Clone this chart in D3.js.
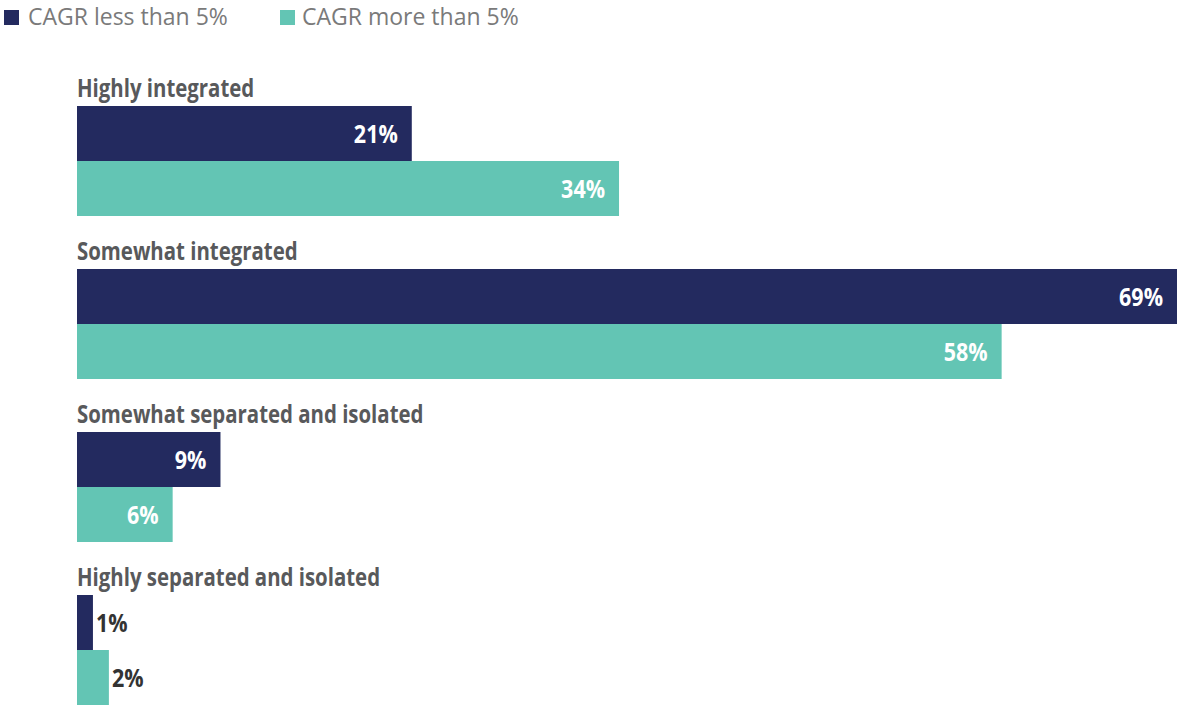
<!DOCTYPE html>
<html>
<head>
<meta charset="utf-8">
<script src="https://cdn.jsdelivr.net/npm/d3@7"></script>
<style>
  body { margin: 0; background: #fff; }
  svg { display: block; }
  .cond { font-family: 'Open Sans', sans-serif; font-weight: bold; }
</style>
</head>
<body>
<svg id="chart" width="1177" height="707"></svg>
<script>
// chart data
const categories = ["Highly integrated", "Somewhat integrated", "Somewhat separated and isolated", "Highly separated and isolated"];
const seriesNames = ["CAGR less than 5%", "CAGR more than 5%"];
const lessThan5 = [21, 69, 9, 1];
const moreThan5 = [34, 58, 6, 2];
const colors = ["#232a5f", "#63c5b4"];

const svg = d3.select("#chart");

const rows = categories.map((c, i) => ({cat: c, values: [lessThan5[i], moreThan5[i]]}));

// scales
let x = d3.scaleLinear().domain([0, 69]).range([77, 1177]);
let y0 = d3.scaleBand().domain(categories).range([106, 758]);
let y1 = d3.scaleBand().domain(seriesNames).range([0, 110]);

// no condensed font installed, so squeeze text horizontally
let squeeze = 0.816;

// legend
let legend = svg.append("g");
let legendX = [4, 280];
let legendTextX = [28, 302];
seriesNames.forEach(function(s, i) {
    legend.append("rect")
        .attr("x", legendX[i]).attr("y", 10)
        .attr("width", 15).attr("height", 15)
        .style("fill", colors[i]);
    legend.append("text")
        .attr("x", legendTextX[i]).attr("y", 25)
        .style("font-family", "'Open Sans', sans-serif")
        .style("font-size", "23px")
        .style("fill", "#7a7a7a")
        .text(s);
});

let groups = svg.selectAll("g.group")
    .data(rows)
    .join("g")
    .attr("class", "group")
    .attr("transform", d => "translate(0," + y0(d.cat) + ")");

// category labels
groups.append("g")
    .attr("transform", "translate(77,-9) scale(" + squeeze + ",1)")
    .append("text")
    .attr("class", "cond")
    .style("font-size", "25px")
    .style("fill", "#58595b")
    .text(d => d.cat);

groups.each(function(d) {
    let g = d3.select(this);
    d.values.forEach(function(v, i) {
        let top = y1(seriesNames[i]);
        let h = y1.bandwidth();
        g.append("rect")
            .attr("x", x(0))
            .attr("y", top)
            .attr("width", x(v) - x(0))
            .attr("height", h)
            .style("fill", colors[i]);
        // small bars get their label outside
        let inside = x(v) - x(0) > 50;
        let tx = inside ? x(v) - 14 : x(v) + 3;
        g.append("g")
            .attr("transform", "translate(" + tx + "," + (top + h / 2 + 9) + ") scale(0.86,1)")
            .append("text")
            .attr("class", "cond")
            .attr("text-anchor", inside ? "end" : "start")
            .style("font-size", "25px")
            .style("fill", inside ? "#ffffff" : "#333333")
            .text(v + "%");
    });
});
</script>
</body>
</html>
